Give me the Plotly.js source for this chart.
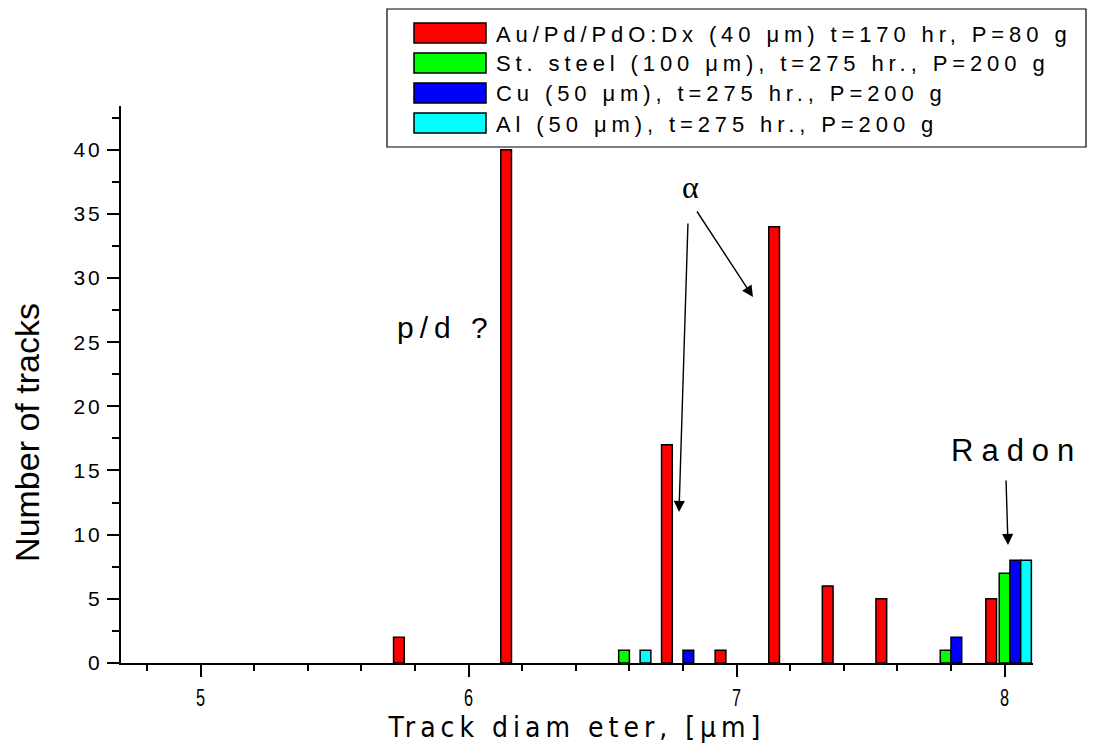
<!DOCTYPE html>
<html>
<head>
<meta charset="utf-8">
<script src="https://cdn.plot.ly/plotly-3.0.1.min.js"></script>
<style>
  html, body { margin: 0; padding: 0; background: #fff; }
  #chart { width: 1099px; height: 755px; }
  .ytick text { letter-spacing: 3px; }
  .xtitle { letter-spacing: 5px; }
</style>
</head>
<body>
<div id="chart"></div>
<script>
// ---- data ----
const seriesNames = [
  'Au/Pd/PdO:Dx (40 \u03bcm) t=170 hr, P=80 g',
  'St. steel (100 \u03bcm), t=275 hr., P=200 g',
  'Cu (50 \u03bcm), t=275 hr., P=200 g',
  'Al (50 \u03bcm), t=275 hr., P=200 g'
];
const seriesColors = ['#ff0000', '#00ff00', '#0000ff', '#00ffff'];

const diamAu = [5.74, 6.14, 6.74, 6.94, 7.14, 7.34, 7.54, 7.95];
const tracksAu = [2, 40, 17, 1, 34, 6, 5, 5];

const diamSteel = [6.58, 7.78, 8.00];
const tracksSteel = [1, 1, 7];

const diamCu = [6.82, 7.82, 8.04];
const tracksCu = [1, 2, 8];

const diamAl = [6.66, 8.08];
const tracksAl = [1, 8];

const xTickVals = [5, 6, 7, 8];
const yTickVals = [0, 5, 10, 15, 20, 25, 30, 35, 40];

const labelPD = 'p/d ?';
const labelAlpha = '\u03b1';
const labelRadon = 'Radon';
const xTitle = 'Track diam eter, [\u03bcm]';
const yTitle = 'Number of tracks';

// ---- layout helpers ----
const W = 1099, H = 755;
const L = 121, R = 1033, T = 106, B = 663;
const px = v => (v - L) / (R - L);
const py = v => (B - v) / (B - T);

const barW = 0.04;
const lineStyle = { color: '#000', width: 1.5 };

const xs = [diamAu, diamSteel, diamCu, diamAl];
const ys = [tracksAu, tracksSteel, tracksCu, tracksAl];
const traces = xs.map((x, i) => ({
  type: 'bar',
  name: seriesNames[i],
  x: x,
  y: ys[i],
  width: x.map(() => barW),
  marker: { color: seriesColors[i], line: lineStyle },
  showlegend: false,
  hoverinfo: 'x+y+name'
}));

const shapes = [];
const annotations = [];
const spacing = [];

// custom legend (box + swatches + texts)
shapes.push({
  type: 'rect', xref: 'paper', yref: 'paper',
  x0: px(387), x1: px(1086), y0: py(9), y1: py(147),
  line: { color: '#000', width: 1.2 }, fillcolor: '#fff', layer: 'above'
});
const rowCenters = [33, 63, 93, 123];
seriesNames.forEach((nm, i) => {
  const c = rowCenters[i];
  shapes.push({
    type: 'rect', xref: 'paper', yref: 'paper',
    x0: px(414), x1: px(486), y0: py(c - 10), y1: py(c + 10),
    line: { color: '#000', width: 1.5 }, fillcolor: seriesColors[i], layer: 'above'
  });
  annotations.push({
    xref: 'paper', yref: 'paper', x: px(494), y: py(c + 1),
    xanchor: 'left', yanchor: 'middle', align: 'left',
    text: nm, showarrow: false,
    font: { family: 'Liberation Sans, Arial, sans-serif', size: 22, color: '#000' }
  });
  spacing.push(4.9);
});

// text labels
annotations.push({
  xref: 'paper', yref: 'paper', x: px(445), y: py(327),
  xanchor: 'center', yanchor: 'middle', text: labelPD, showarrow: false,
  font: { family: 'Liberation Sans, Arial, sans-serif', size: 30, color: '#000' }
});
spacing.push(6);
annotations.push({
  xref: 'paper', yref: 'paper', x: px(1016), y: py(450),
  xanchor: 'center', yanchor: 'middle', text: labelRadon, showarrow: false,
  font: { family: 'Liberation Sans, Arial, sans-serif', size: 31, color: '#000' }
});
spacing.push(8);
annotations.push({
  xref: 'paper', yref: 'paper', x: px(690), y: py(187),
  xanchor: 'center', yanchor: 'middle', text: labelAlpha, showarrow: false,
  font: { family: 'Liberation Serif, Times New Roman, serif', size: 32, color: '#000' }
});
spacing.push(0);

// arrows (tail -> tip, pixel positions)
const arrows = [
  [[688, 222], [679, 512]],
  [[696, 210], [753, 297]],
  [[1006, 479], [1008, 545]]
];
arrows.forEach(([tail, tip]) => {
  annotations.push({
    xref: 'paper', yref: 'paper', x: px(tip[0]), y: py(tip[1]),
    text: '', showarrow: true, arrowhead: 2, arrowsize: 1.6, arrowwidth: 1.4,
    arrowcolor: '#000', ax: tail[0] - tip[0], ay: tail[1] - tip[1], standoff: 0
  });
  spacing.push(0);
});

const tickFontFamily = 'Liberation Sans, Arial, sans-serif';

const layout = {
  width: W, height: H,
  margin: { l: L, r: W - R, t: T, b: H - B, pad: 0 },
  paper_bgcolor: '#fff', plot_bgcolor: '#fff',
  barmode: 'overlay',
  showlegend: false,
  font: { family: tickFontFamily, size: 19, color: '#000' },
  xaxis: {
    range: [4.703, 8.106],
    tickmode: 'array',
    tickvals: xTickVals,
    ticks: 'outside', ticklen: 12, tickwidth: 2, tickcolor: '#000',
    minor: { dtick: 0.2, ticks: 'outside', ticklen: 6, tickwidth: 2, tickcolor: '#000' },
    showline: true, linecolor: '#000', linewidth: 2,
    showgrid: false, zeroline: false,
    tickfont: { family: tickFontFamily, size: 24, color: '#000' },
    title: {
      text: xTitle, standoff: 0,
      font: { family: 'Liberation Sans Narrow, DejaVu Sans Condensed, Arial Narrow, sans-serif', size: 28, color: '#000' }
    },
    fixedrange: true
  },
  yaxis: {
    range: [0, 43.4],
    tickmode: 'array',
    tickvals: yTickVals,
    ticks: 'outside', ticklen: 12, tickwidth: 2, tickcolor: '#000',
    minor: { dtick: 2.5, ticks: 'outside', ticklen: 7, tickwidth: 2, tickcolor: '#000' },
    showline: true, linecolor: '#000', linewidth: 2,
    showgrid: false, zeroline: false,
    tickfont: { family: tickFontFamily, size: 21, color: '#000' },
    title: {
      text: yTitle, standoff: 24,
      font: { family: 'Liberation Sans, Arial, sans-serif', size: 34, color: '#000' }
    },
    fixedrange: true
  },
  shapes: shapes,
  annotations: annotations
};

Plotly.newPlot('chart', traces, layout, { displayModeBar: false, staticPlot: true }).then(gd => {
  gd.querySelectorAll('.annotation').forEach(g => {
    const idx = +g.getAttribute('data-index');
    const sp = spacing[idx];
    if (sp) {
      const t = g.querySelector('text');
      if (t) t.style.letterSpacing = sp + 'px';
    }
  });
  // tall, narrow x tick labels, as in the reference
  gd.querySelectorAll('g.xtick > text').forEach(t => {
    const xa = parseFloat(t.getAttribute('x')) || 0;
    const tr = t.getAttribute('transform') || '';
    t.setAttribute('transform', tr + ' translate(' + xa + ',0) scale(0.68,1) translate(' + (-xa) + ',0)');
  });
  // the reference's y title sits a little below the axis middle
  const yt = gd.querySelector('.ytitle');
  if (yt) {
    const tr = yt.getAttribute('transform') || '';
    yt.setAttribute('transform', 'translate(0,48) ' + tr);
  }
});
</script>
</body>
</html>
